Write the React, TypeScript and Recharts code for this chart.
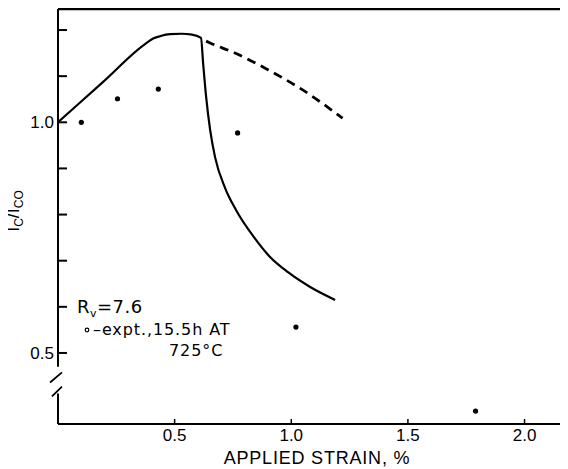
import React from "react"
import { ComposedChart, Line, Scatter, XAxis, YAxis, ReferenceLine, Customized } from "recharts"

// axis ticks
const strainTicks = [0.5, 1.0, 1.5, 2.0]
const ratioTicks = [0.5, 0.6, 0.7, 0.8, 0.9, 1.0, 1.1, 1.2]
const labelledRatios = [0.5, 1.0]

// calculated curve (solid)
const calcStrain = [0, 0.19, 0.38, 0.41, 0.44, 0.48, 0.53, 0.575, 0.613, 0.622, 0.635, 0.652, 0.673, 0.716, 0.763, 0.84, 0.909, 0.986, 1.081, 1.188]
const calcRatio = [1.0, 1.086, 1.172, 1.182, 1.187, 1.191, 1.192, 1.19, 1.183, 1.129, 1.055, 0.984, 0.925, 0.858, 0.81, 0.751, 0.708, 0.675, 0.643, 0.615]

// calculated curve without cracking (dashed)
const dashStrain = [0.635, 0.652, 0.75, 0.9, 1.037, 1.22]
const dashRatio = [1.176, 1.172, 1.152, 1.114, 1.074, 1.009]

// experiment, 15.5h at 725C
const expStrain = [0.1, 0.255, 0.43, 0.77, 1.02, 1.79]
const expRatio = [1.0, 1.051, 1.072, 0.977, 0.556, 0.374]

const toPoints = (xs: number[], ys: number[]) => xs.map((x, i) => ({ x, y: ys[i] }))

const calcData = toPoints(calcStrain, calcRatio)
const dashData = toPoints(dashStrain, dashRatio)
const expData = toPoints(expStrain, expRatio)

const FONT = "'Liberation Sans', Arial, sans-serif"
const LETTER = "'DejaVu Sans', sans-serif"
const X_MIN = 0
const X_MAX = 2.182
const Y_MIN = 0.346
const Y_MAX = 1.2456

const LeftTick = (props: any) => {
  const { x, y, payload } = props
  const show = labelledRatios.includes(payload.value)
  return (
    <g>
      <line x1={x} x2={x + 9} y1={y} y2={y} stroke="#000" strokeWidth={2} />
      {show && (
        <text x={x - 4} y={y} dy={6} textAnchor="end" fontSize={17} fontFamily={FONT} fill="#000">
          {payload.value.toFixed(1)}
        </text>
      )}
    </g>
  )
}

// tickSize is negative (ticks point inward), so y sits 5px above the axis line
const BottomTick = (props: any) => {
  const { x, y, payload } = props
  return (
    <text x={x} y={y + 22} textAnchor="middle" fontSize={17} fontFamily={FONT} fill="#000">
      {payload.value.toFixed(1)}
    </text>
  )
}

const Dot = (props: any) => <circle cx={props.cx} cy={props.cy} r={2.6} fill="#000" />

// chart sits inside the body's 8px margin, so these are page positions minus 8
const Annotations = () => (
  <g fontFamily={LETTER} fill="#000">
    <text x={69} y={305} fontSize={18} letterSpacing={0.5}>
      R<tspan fontSize={11} dy={4}>v</tspan>
      <tspan dy={-4}>=7.6</tspan>
    </text>
    <circle cx={79} cy={322} r={1.8} fill="none" stroke="#000" strokeWidth={1.2} />
    <text x={85} y={327} fontSize={16} letterSpacing={0.9}>
      –expt.,15.5h AT
    </text>
    <text x={161} y={348} fontSize={16} letterSpacing={0.9}>
      725°C
    </text>
    <text x={309} y={456} fontSize={18} fontFamily={FONT} textAnchor="middle" letterSpacing={0.8}>
      APPLIED STRAIN, %
    </text>
    <text transform="translate(11,203) rotate(-90)" textAnchor="middle" fontSize={18} fontFamily={FONT}>
      I<tspan fontSize={12} dy={4}>C</tspan>
      <tspan dy={-4}>/I</tspan>
      <tspan fontSize={12} dy={4}>CO</tspan>
    </text>
  </g>
)

export default function App() {
  return (
    <div style={{ width: 560, height: 461, background: "#fff" }}>
      <ComposedChart width={560} height={461} margin={{ top: 0, right: 0, bottom: 0, left: -8 }}>
        <XAxis
          xAxisId="b"
          type="number"
          dataKey="x"
          domain={[X_MIN, X_MAX]}
          ticks={strainTicks}
          allowDataOverflow
          height={45}
          axisLine={{ stroke: "#000", strokeWidth: 2 }}
          tickLine={{ stroke: "#000", strokeWidth: 1.5 }}
          tickSize={-5}
          tickMargin={0}
          tick={<BottomTick />}
        />
        <XAxis
          xAxisId="t"
          orientation="top"
          type="number"
          domain={[X_MIN, X_MAX]}
          ticks={strainTicks}
          allowDataOverflow
          height={1}
          axisLine={{ stroke: "#000", strokeWidth: 2.5 }}
          tickLine={{ stroke: "#000", strokeWidth: 1.5 }}
          tickSize={-5}
          tickFormatter={() => ""}
        />
        <YAxis
          yAxisId="l"
          type="number"
          domain={[Y_MIN, Y_MAX]}
          ticks={ratioTicks}
          allowDataOverflow
          width={58}
          axisLine={false}
          tickLine={false}
          tickSize={0}
          tickMargin={0}
          tick={<LeftTick />}
        />
        <YAxis
          yAxisId="r"
          orientation="right"
          type="number"
          domain={[Y_MIN, Y_MAX]}
          ticks={ratioTicks}
          allowDataOverflow
          width={1}
          axisLine={false}
          tickLine={{ stroke: "#000", strokeWidth: 2 }}
          tickSize={-7}
          tickFormatter={() => ""}
        />

        {/* left axis with a break near the bottom */}
        <ReferenceLine xAxisId="b" yAxisId="l" segment={[{ x: 0, y: Y_MAX }, { x: 0, y: 0.47 }]} stroke="#000" strokeWidth={2} ifOverflow="visible" />
        <ReferenceLine xAxisId="b" yAxisId="l" segment={[{ x: 0, y: 0.412 }, { x: 0, y: Y_MIN }]} stroke="#000" strokeWidth={2} ifOverflow="visible" />
        <ReferenceLine xAxisId="b" yAxisId="l" segment={[{ x: -0.034, y: 0.436 }, { x: 0.017, y: 0.458 }]} stroke="#000" strokeWidth={1.8} ifOverflow="visible" />
        <ReferenceLine xAxisId="b" yAxisId="l" segment={[{ x: -0.026, y: 0.406 }, { x: 0.017, y: 0.427 }]} stroke="#000" strokeWidth={1.8} ifOverflow="visible" />

        <Line
          xAxisId="b"
          yAxisId="l"
          data={calcData}
          dataKey="y"
          type="monotone"
          stroke="#000"
          strokeWidth={2.2}
          dot={false}
          isAnimationActive={false}
        />
        <Line
          xAxisId="b"
          yAxisId="l"
          data={dashData}
          dataKey="y"
          type="monotone"
          stroke="#000"
          strokeWidth={2.8}
          strokeDasharray="9 6"
          dot={false}
          isAnimationActive={false}
        />
        <Scatter xAxisId="b" yAxisId="l" data={expData} dataKey="y" fill="#000" shape={<Dot />} isAnimationActive={false} />

        <Customized component={Annotations} />
      </ComposedChart>
    </div>
  )
}
